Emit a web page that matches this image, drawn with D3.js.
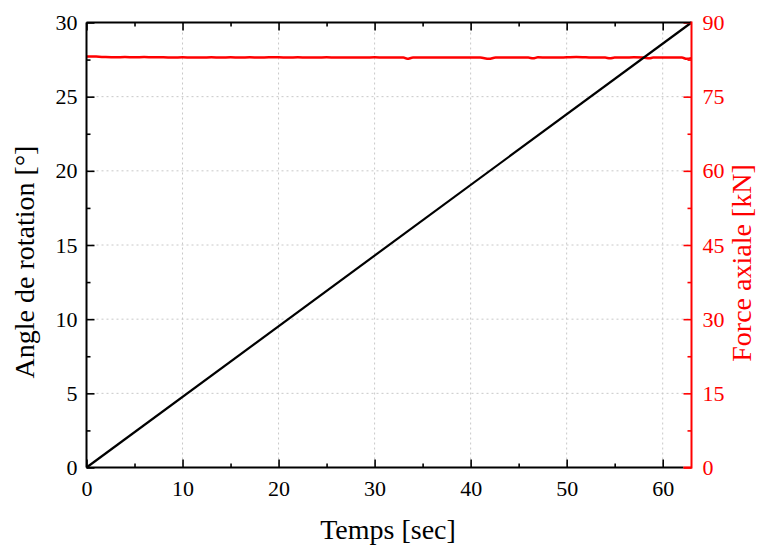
<!DOCTYPE html>
<html><head><meta charset="utf-8">
<script src="https://cdn.jsdelivr.net/npm/d3@7"></script>
<style>body{margin:0;background:#fff}svg{display:block}</style>
</head><body>
<svg id="c" width="758" height="547"></svg>
<script>
const timeTicks = [0,10,20,30,40,50,60];
const angleTicks = [0,5,10,15,20,25,30];
const forceTicks = [0,15,30,45,60,75,90];
const angleTime = [0, 63];
const angleValues = [0, 30];
const forceTime = [0,1,2,3,4,5,6,7,8,9,10,11,12,13,14,15,16,17,18,19,20,21,22,23,24,25,26,27,28,29,30,31,32,33,33.4,34,35,36,37,38,39,40,41,41.9,42.6,43,44,45,46,46.5,47,48,49,50,51,52,53,54,54.5,55,56,57,58,58.6,59,60,61,62,62.5,63];
const forceValues = [83.1,83.1,83.0,82.95,83.0,82.95,83.0,82.95,82.95,82.9,82.95,82.9,82.9,82.95,82.9,82.95,82.9,82.95,82.9,82.95,82.95,82.9,82.95,82.9,82.9,82.95,82.9,82.9,82.9,82.9,82.95,82.9,82.9,82.9,82.65,82.9,82.9,82.9,82.9,82.9,82.9,82.9,82.9,82.65,82.9,82.9,82.9,82.9,82.9,82.75,82.95,82.9,82.9,82.95,83.0,82.95,82.9,82.9,82.75,82.9,82.9,82.95,82.9,82.75,82.9,82.9,82.9,82.9,82.65,82.8];

const svg = d3.select('#c');
const m = {l:86.5, r:691.5, t:22.5, b:467.5};
const x = d3.scaleLinear().domain([0,63]).range([m.l, m.r]);
const yL = d3.scaleLinear().domain([0,30]).range([m.b, m.t]);
const yR = d3.scaleLinear().domain([0,90]).range([m.b, m.t]);
const font = '"Liberation Serif", "DejaVu Serif", serif';

// grid
const g = svg.append('g');
g.selectAll('.vg').data(timeTicks.filter(d=>d>0)).enter().append('line')
  .attr('x1',d=>x(d)).attr('x2',d=>x(d)).attr('y1',m.t).attr('y2',m.b)
  .attr('stroke','#c8c8c8').attr('stroke-width',1).attr('stroke-dasharray','2,3');
g.selectAll('.hg').data(angleTicks.filter(d=>d>0&&d<30)).enter().append('line')
  .attr('y1',d=>yL(d)).attr('y2',d=>yL(d)).attr('x1',m.l).attr('x2',m.r)
  .attr('stroke','#c8c8c8').attr('stroke-width',1).attr('stroke-dasharray','2,3');

// data lines
svg.append('path').datum(d3.zip(forceTime, forceValues))
  .attr('d', d3.line().x(d=>x(d[0])).y(d=>yR(d[1])).curve(d3.curveMonotoneX))
  .attr('fill','none').attr('stroke','#ff0000').attr('stroke-width',2.5);
svg.append('path').datum(d3.zip(angleTime, angleValues))
  .attr('d', d3.line().x(d=>x(d[0])).y(d=>yL(d[1])))
  .attr('fill','none').attr('stroke','#000').attr('stroke-width',2.2);

function styleAxis(sel, color){
  sel.select('.domain').remove();
  sel.selectAll('line').attr('stroke',color).attr('stroke-width',1.6);
  sel.selectAll('text').attr('fill',color).style('font-family',font).style('font-size','22px');
}
const minorT = d3.range(5,63,10);
const minorA = d3.range(2.5,30,5);
const minorF = d3.range(7.5,90,15);

// bottom axis
const bx = svg.append('g').attr('transform',`translate(0,${m.b})`)
  .call(d3.axisBottom(x).tickValues(timeTicks).tickSizeInner(-8).tickSizeOuter(0).tickPadding(13).tickFormat(d3.format('d')));
styleAxis(bx,'#000');
const bxm = svg.append('g').attr('transform',`translate(0,${m.b})`)
  .call(d3.axisBottom(x).tickValues(minorT).tickSizeInner(-4).tickSizeOuter(0).tickFormat(''));
styleAxis(bxm,'#000');
// top axis
const tx = svg.append('g').attr('transform',`translate(0,${m.t})`)
  .call(d3.axisTop(x).tickValues(timeTicks).tickSizeInner(-8).tickSizeOuter(0).tickFormat(''));
styleAxis(tx,'#000');
const txm = svg.append('g').attr('transform',`translate(0,${m.t})`)
  .call(d3.axisTop(x).tickValues(minorT).tickSizeInner(-4).tickSizeOuter(0).tickFormat(''));
styleAxis(txm,'#000');
// left axis
const ly = svg.append('g').attr('transform',`translate(${m.l},0)`)
  .call(d3.axisLeft(yL).tickValues(angleTicks).tickSizeInner(-8).tickSizeOuter(0).tickPadding(9).tickFormat(d3.format('d')));
styleAxis(ly,'#000');
const lym = svg.append('g').attr('transform',`translate(${m.l},0)`)
  .call(d3.axisLeft(yL).tickValues(minorA).tickSizeInner(-4).tickSizeOuter(0).tickFormat(''));
styleAxis(lym,'#000');
// right axis
const ry = svg.append('g').attr('transform',`translate(${m.r},0)`)
  .call(d3.axisRight(yR).tickValues(forceTicks).tickSizeInner(-8).tickSizeOuter(0).tickPadding(11).tickFormat(d3.format('d')));
styleAxis(ry,'#ff0000');
const rym = svg.append('g').attr('transform',`translate(${m.r},0)`)
  .call(d3.axisRight(yR).tickValues(minorF).tickSizeInner(-4).tickSizeOuter(0).tickFormat(''));
styleAxis(rym,'#ff0000');

// frame
svg.append('line').attr('x1',m.l).attr('x2',m.r).attr('y1',m.t).attr('y2',m.t).attr('stroke','#000').attr('stroke-width',2);
svg.append('line').attr('x1',m.l).attr('x2',m.r-8).attr('y1',m.b).attr('y2',m.b).attr('stroke','#000').attr('stroke-width',2.2);
svg.append('line').attr('x1',m.r-8).attr('x2',m.r).attr('y1',m.b).attr('y2',m.b).attr('stroke','#ff0000').attr('stroke-width',2.2);
svg.append('line').attr('x1',m.l).attr('x2',m.l).attr('y1',m.t).attr('y2',m.b).attr('stroke','#000').attr('stroke-width',2);
svg.append('line').attr('x1',m.r).attr('x2',m.r).attr('y1',m.t-1).attr('y2',m.b+1).attr('stroke','#ff0000').attr('stroke-width',2);

// titles
svg.append('text').attr('x',388).attr('y',539).attr('text-anchor','middle')
  .style('font-family',font).style('font-size','28px').attr('fill','#000').text('Temps [sec]');
svg.append('text').attr('transform',`translate(34,${262}) rotate(-90)`).attr('text-anchor','middle')
  .style('font-family',font).style('font-size','28px').attr('fill','#000').text('Angle de rotation [°]');
svg.append('text').attr('transform',`translate(751,${263}) rotate(-90)`).attr('text-anchor','middle')
  .style('font-family',font).style('font-size','28px').attr('fill','#ff0000').text('Force axiale [kN]');
</script>
</body></html>
